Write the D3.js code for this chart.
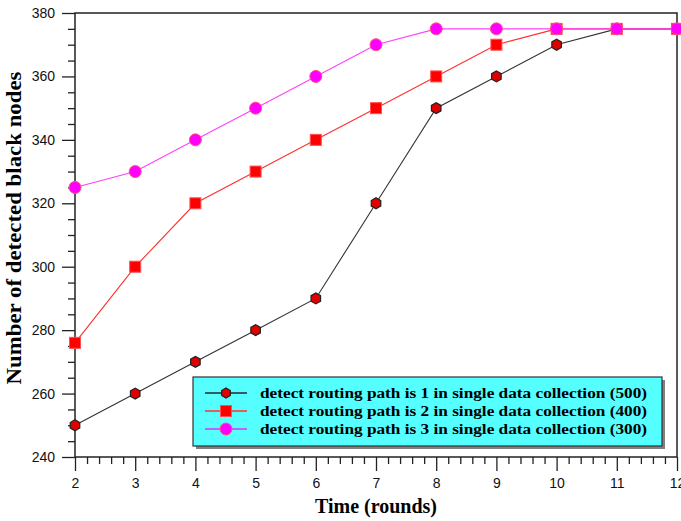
<!DOCTYPE html>
<html>
<head>
<meta charset="utf-8">
<script src="https://cdn.jsdelivr.net/npm/d3@7"></script>
<style>
  html, body { margin: 0; padding: 0; background: #fff; }
  svg { display: block; }
</style>
</head>
<body>
<svg id="chart" width="681" height="521"></svg>
<script>
// Rounds on the x axis
const rounds = [2, 3, 4, 5, 6, 7, 8, 9, 10, 11, 12];

// Detected black nodes per round, one array per routing-path setting
const path1 = [250, 260, 270, 280, 290, 320, 350, 360, 370, 375, 375];
const path2 = [276, 300, 320, 330, 340, 350, 360, 370, 375, 375, 375];
const path3 = [325, 330, 340, 350, 360, 370, 375, 375, 375, 375, 375];

const seriesNames = [
  "detect routing path is 1 in single data collection (500)",
  "detect routing path is 2 in single data collection (400)",
  "detect routing path is 3 in single data collection (300)"
];

const xTicks = [2, 3, 4, 5, 6, 7, 8, 9, 10, 11, 12];
const yTicks = [240, 260, 280, 300, 320, 340, 360, 380];

const svg = d3.select("#chart");
const plotLeft = 75, plotRight = 677, plotTop = 13, plotBottom = 457;

const x = d3.scaleLinear().domain([2, 12]).range([plotLeft, plotRight]);
const y = d3.scaleLinear().domain([240, 380]).range([plotBottom, plotTop]);

const tickFont = "'Liberation Sans', Arial, sans-serif";
const serif = "'Liberation Serif', 'Times New Roman', serif";

// Minor ticks
const xMinor = d3.range(2, 12.0001, 0.2).filter(v => Math.abs(v - Math.round(v)) > 1e-6);
const yMinor = d3.range(240, 380.001, 5).filter(v => v % 20 !== 0);

const gx = svg.append("g").attr("transform", `translate(0,${plotBottom})`);
gx.call(d3.axisBottom(x).tickValues(xTicks).tickFormat(d3.format("d")).tickSize(14).tickPadding(7));
gx.append("g").call(d3.axisBottom(x).tickValues(xMinor).tickSize(7).tickFormat(""));

const gy = svg.append("g").attr("transform", `translate(${plotLeft},0)`);
gy.call(d3.axisLeft(y).tickValues(yTicks).tickFormat(d3.format("d")).tickSize(13).tickPadding(7));
gy.append("g").call(d3.axisLeft(y).tickValues(yMinor).tickSize(7).tickFormat(""));

svg.selectAll(".domain").remove();
svg.selectAll(".tick line").attr("stroke", "#222").attr("stroke-width", 1.3);
svg.selectAll(".tick text")
  .attr("font-family", tickFont).attr("font-size", 14).attr("fill", "#111");

// Plot frame
svg.append("rect")
  .attr("x", plotLeft).attr("y", plotTop)
  .attr("width", plotRight - plotLeft).attr("height", plotBottom - plotTop)
  .attr("fill", "none").attr("stroke", "#222").attr("stroke-width", 1.5);

const line = d3.line().x((d, i) => x(rounds[i])).y(d => y(d));

// Hexagonal marker path centred at origin
function hexPath(r) {
  const pts = d3.range(6).map(k => {
    const a = Math.PI / 6 + k * Math.PI / 3;
    return [r * Math.cos(a), r * Math.sin(a)];
  });
  return "M" + pts.map(p => p.join(",")).join("L") + "Z";
}

// Series 1: dark line, red hexagons
svg.append("path").datum(path1).attr("d", line)
  .attr("fill", "none").attr("stroke", "#333").attr("stroke-width", 1.1);
svg.append("g").selectAll("path").data(path1).join("path")
  .attr("d", hexPath(5.5))
  .attr("transform", (d, i) => `translate(${x(rounds[i])},${y(d)})`)
  .attr("fill", "#e00000").attr("stroke", "#222").attr("stroke-width", 1.2);

// Series 2: red line, red squares
svg.append("path").datum(path2).attr("d", line)
  .attr("fill", "none").attr("stroke", "#ff3030").attr("stroke-width", 1.1);
svg.append("g").selectAll("rect").data(path2).join("rect")
  .attr("x", (d, i) => x(rounds[i]) - 5.5).attr("y", d => y(d) - 5.5)
  .attr("width", 11).attr("height", 11)
  .attr("fill", "#ff0000").attr("stroke", "#ff5050").attr("stroke-width", 1);

// Series 3: magenta line, magenta circles
svg.append("path").datum(path3).attr("d", line)
  .attr("fill", "none").attr("stroke", "#ff40ff").attr("stroke-width", 1.1);
svg.append("g").selectAll("circle").data(path3).join("circle")
  .attr("cx", (d, i) => x(rounds[i])).attr("cy", d => y(d)).attr("r", 6)
  .attr("fill", "#ff00ff").attr("stroke", "#ff5080").attr("stroke-width", 1);

// Legend
const lg = svg.append("g");
const lx = 193, ly = 377, lw = 469, lh = 69;
lg.append("rect").attr("x", lx + 3).attr("y", ly + 3).attr("width", lw).attr("height", lh).attr("fill", "#808080");
lg.append("rect").attr("x", lx).attr("y", ly).attr("width", lw).attr("height", lh)
  .attr("fill", "#55ffff").attr("stroke", "#333").attr("stroke-width", 1.2);

const legendLine = ["#2f5f5f", "#e06060", "#c060ff"];
seriesNames.forEach((name, i) => {
  const cy = ly + 16 + i * 18;
  lg.append("line").attr("x1", lx + 12).attr("x2", lx + 54).attr("y1", cy).attr("y2", cy)
    .attr("stroke", legendLine[i]).attr("stroke-width", 2);
  const mx = lx + 33;
  if (i === 0) {
    lg.append("path").attr("d", hexPath(5)).attr("transform", `translate(${mx},${cy})`)
      .attr("fill", "#e00000").attr("stroke", "#222").attr("stroke-width", 1.2);
  } else if (i === 1) {
    lg.append("rect").attr("x", mx - 5.5).attr("y", cy - 5.5).attr("width", 11).attr("height", 11)
      .attr("fill", "#ff0000").attr("stroke", "#ff5050");
  } else {
    lg.append("circle").attr("cx", mx).attr("cy", cy).attr("r", 6)
      .attr("fill", "#ff00ff").attr("stroke", "#ff5080");
  }
  lg.append("text").attr("x", lx + 67).attr("y", cy).attr("dy", "0.35em")
    .attr("font-family", serif).attr("font-weight", "bold").attr("font-size", 15)
    .attr("textLength", 387).attr("lengthAdjust", "spacingAndGlyphs")
    .attr("fill", "#000").text(name);
});

// Axis titles
svg.append("text").attr("x", 376).attr("y", 513)
  .attr("text-anchor", "middle").attr("font-family", serif).attr("font-weight", "bold")
  .attr("font-size", 20).attr("textLength", 122).attr("lengthAdjust", "spacingAndGlyphs")
  .text("Time (rounds)");
svg.append("text").attr("transform", "translate(21,228) rotate(-90)")
  .attr("text-anchor", "middle").attr("font-family", serif).attr("font-weight", "bold")
  .attr("font-size", 20).attr("textLength", 313).attr("lengthAdjust", "spacingAndGlyphs")
  .text("Number of detected black nodes");
</script>
</body>
</html>
